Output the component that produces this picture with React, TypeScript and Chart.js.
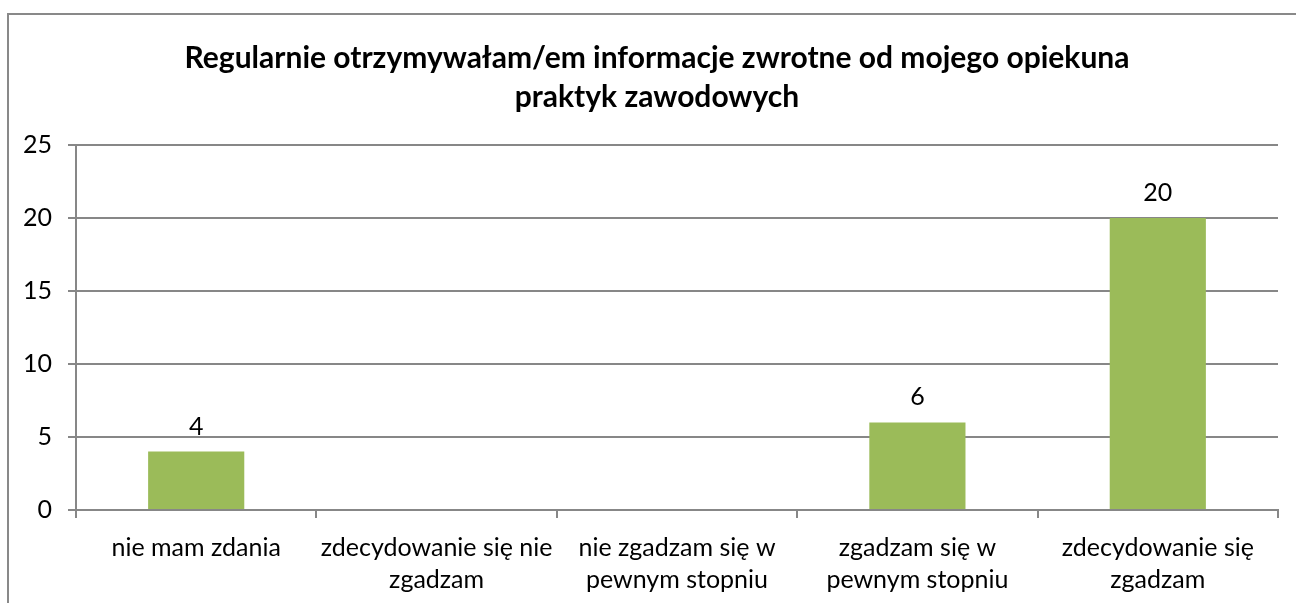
import React, { useEffect, useRef } from "react";
import { Chart, registerables } from "chart.js";

Chart.register(...registerables);

const titleLines = [
  "Regularnie otrzymywałam/em informacje zwrotne od mojego opiekuna",
  "praktyk zawodowych",
];
const categories: string[][] = [
  ["nie mam zdania"],
  ["zdecydowanie się nie", "zgadzam"],
  ["nie zgadzam się w", "pewnym stopniu"],
  ["zgadzam się w", "pewnym stopniu"],
  ["zdecydowanie się", "zgadzam"],
];
const values: (number | null)[] = [4, 0, 0, 6, 20];
const labelShown = [true, false, false, true, true];

const FONT = "Lato, 'Open Sans', sans-serif";
const GRID = "#878787";

const valueLabels = {
  id: "valueLabels",
  afterDatasetsDraw(chart: any) {
    const ctx = chart.ctx;
    const meta = chart.getDatasetMeta(0);
    ctx.save();
    ctx.font = `25px ${FONT}`;
    ctx.fillStyle = "#000";
    ctx.textAlign = "center";
    ctx.textBaseline = "middle";
    meta.data.forEach((el: any, i: number) => {
      if (!labelShown[i]) return;
      ctx.fillText(String(values[i]), el.x, el.y - 25);
    });
    ctx.restore();
  },
};

// Center the title over the whole frame rather than over the padded chart box
const titleShift = {
  id: "titleShift",
  afterLayout(chart: any) {
    if (chart.titleBlock) {
      chart.titleBlock.left = 18;
      chart.titleBlock.right = chart.width;
    }
  },
};

export default function App() {
  const ref = useRef<HTMLCanvasElement>(null);
  useEffect(() => {
    if (!ref.current) return;
    const chart = new Chart(ref.current, {
      type: "bar",
      data: {
        labels: categories,
        datasets: [
          {
            data: values,
            backgroundColor: "#9BBB59",
            barPercentage: 0.4,
            categoryPercentage: 1,
          },
        ],
      },
      options: {
        animation: false,
        responsive: false,
        maintainAspectRatio: false,
        layout: { padding: { left: 0, right: 18, top: 0, bottom: 0 } },
        plugins: {
          legend: { display: false },
          tooltip: { enabled: false },
          title: {
            display: true,
            text: titleLines,
            color: "#000",
            font: { family: FONT, size: 30, weight: "bold", lineHeight: 1.3 },
            padding: { top: 39, bottom: 28 },
          },
        },
        scales: {
          x: {
            grid: {
              display: true,
              drawOnChartArea: false,
              drawTicks: true,
              tickLength: 8,
              color: GRID,
              lineWidth: 2,
              offset: true,
            },
            border: { color: GRID, width: 2 },
            ticks: {
              color: "#000",
              font: { family: FONT, size: 25, lineHeight: 1.28 },
              padding: 14,
              maxRotation: 0,
              autoSkip: false,
            },
            afterFit(scale: any) {
              scale.height = 93;
            },
          },
          y: {
            min: 0,
            max: 25,
            ticks: {
              stepSize: 5,
              color: "#000",
              font: { family: FONT, size: 25 },
              padding: 16,
            },
            grid: { color: GRID, lineWidth: 2, tickLength: 8 },
            border: { color: GRID, width: 2 },
            afterFit(scale: any) {
              scale.width = 76;
            },
          },
        },
      },
      plugins: [valueLabels, titleShift],
    });
    return () => chart.destroy();
  }, []);

  return (
    <div style={{ position: "fixed", left: 0, top: 0, width: 1296, height: 603, background: "#fff", overflow: "hidden" }}>
      <div
        style={{
          position: "absolute",
          left: 7,
          top: 13,
          width: 1400,
          height: 700,
          borderLeft: "2px solid #898989",
          borderTop: "2px solid #898989",
          boxSizing: "border-box",
        }}
      />
      <canvas ref={ref} width={1296} height={603} style={{ position: "absolute", left: 0, top: 0 }} />
    </div>
  );
}
